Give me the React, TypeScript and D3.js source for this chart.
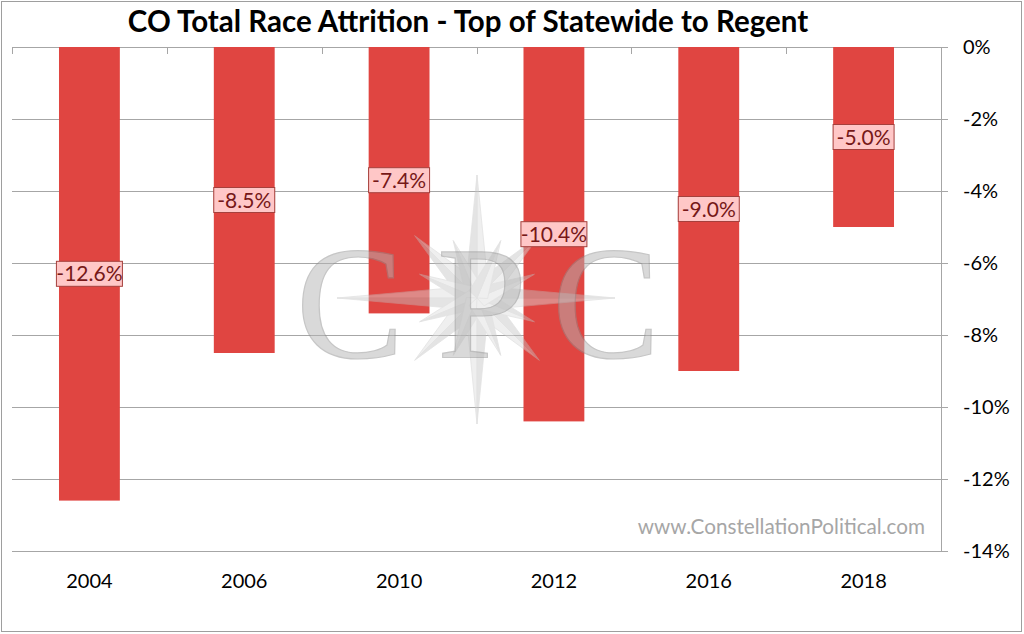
import React from "react";
import * as d3 from "d3";

const years = ["2004", "2006", "2010", "2012", "2016", "2018"];
const values = [-12.6, -8.5, -7.4, -10.4, -9.0, -5.0];
const yTicks = [0, -2, -4, -6, -8, -10, -12, -14];
const title = "CO Total Race Attrition - Top of Statewide to Regent";
const site = "www.ConstellationPolitical.com";

const W = 1024;
const H = 634;
const left = 12;
const right = 941;
const top = 47;
const bottom = 551;
const FONT = "Lato, 'Open Sans', 'Liberation Sans', sans-serif";

// compass rose spikes: angle (deg), length, half-width at base
const spikes = [
  { a: -90, r: 123, w: 12 },
  { a: 0, r: 138, w: 12 },
  { a: 90, r: 126, w: 12 },
  { a: 180, r: 140, w: 12 },
  { a: -45, r: 88, w: 13 },
  { a: 45, r: 88, w: 13 },
  { a: 135, r: 88, w: 13 },
  { a: 225, r: 88, w: 13 },
  { a: -67.5, r: 62, w: 10 },
  { a: -22.5, r: 62, w: 10 },
  { a: 22.5, r: 62, w: 10 },
  { a: 67.5, r: 62, w: 10 },
  { a: 112.5, r: 62, w: 10 },
  { a: 157.5, r: 62, w: 10 },
  { a: 202.5, r: 62, w: 10 },
  { a: 247.5, r: 62, w: 10 },
];

function spikeHalves(cx: number, cy: number, a: number, r: number, w: number) {
  const rad = (a * Math.PI) / 180;
  const ux = Math.cos(rad);
  const uy = Math.sin(rad);
  const px = -uy;
  const py = ux;
  const tip: [number, number] = [cx + r * ux, cy + r * uy];
  const c: [number, number] = [cx, cy];
  const off = w * 0.36;
  const l: [number, number] = [cx + off * ux + w * px, cy + off * uy + w * py];
  const rr: [number, number] = [cx + off * ux - w * px, cy + off * uy - w * py];
  const line = d3.line();
  return [line([c, l, tip]) + "Z", line([c, rr, tip]) + "Z"];
}

export default function App() {
  const x = d3
    .scaleBand<string>()
    .domain(years)
    .range([left, right])
    .paddingInner(0.607)
    .paddingOuter(0.3035);
  const y = d3.scaleLinear().domain([0, -14]).range([top, bottom]);
  const step = x.step();
  const boundaries = d3.range(years.length + 1).map((i) => left + i * step);
  const starCx = 477;
  const starCy = 298;
  const order = [...spikes].sort((p, q) => p.r - q.r).reverse();

  return (
    <svg
      width={W}
      height={H}
      style={{ position: "absolute", left: 0, top: 0, background: "#fff" }}
    >
      <rect x={0} y={0} width={W} height={H} fill="#fff" />
      <rect x={1.5} y={1.5} width={1020} height={630} fill="none" stroke="#9e9e9e" strokeWidth={1} />
      <text
        x={468}
        y={32}
        textAnchor="middle"
        fontFamily={FONT}
        fontWeight={700}
        fontSize={29.5}
        fill="#000"
      >
        {title}
      </text>

      {/* gridlines */}
      {yTicks.map((t) => (
        <line
          key={t}
          x1={left}
          x2={right + 7}
          y1={Math.round(y(t)) + 0.5}
          y2={Math.round(y(t)) + 0.5}
          stroke="#a6a6a6"
          strokeWidth={1}
        />
      ))}
      <line x1={right + 0.5} x2={right + 0.5} y1={top} y2={bottom + 1} stroke="#a6a6a6" />
      {boundaries.map((b, i) => (
        <line key={i} x1={Math.round(b) + 0.5} x2={Math.round(b) + 0.5} y1={top} y2={top + 7} stroke="#a6a6a6" />
      ))}

      {/* bars */}
      {values.map((v, i) => (
        <rect
          key={years[i]}
          x={x(years[i])}
          y={y(0)}
          width={x.bandwidth()}
          height={y(v) - y(0)}
          fill="#e04541"
        />
      ))}

      {/* watermark */}
      <g opacity={0.45}>
        {order.map((s, i) => {
          const [h1, h2] = spikeHalves(starCx, starCy, s.a, s.r, s.w);
          return (
            <g key={i}>
              <path d={h1} fill="#dcdcdc" stroke="#c2c2c2" strokeWidth={0.8} />
              <path d={h2} fill="#c4c4c4" stroke="#c2c2c2" strokeWidth={0.8} />
            </g>
          );
        })}
      </g>
      <g opacity={0.5}>
        {[
          { t: "C", cx: 350 },
          { t: "P", cx: 482 },
          { t: "C", cx: 606 },
        ].map((l, i) => (
          <text
            key={i}
            x={l.cx}
            y={357}
            textAnchor="middle"
            fontFamily="'Liberation Serif', 'DejaVu Serif', serif"
            fontSize={162}
            fill="#b5b5b5"
            stroke="#8f8f8f"
            strokeWidth={1.2}
          >
            {l.t}
          </text>
        ))}
      </g>

      {/* data labels */}
      {values.map((v, i) => {
        const cx = (x(years[i]) as number) + x.bandwidth() / 2;
        const cy = (y(0) + y(v)) / 2;
        const label = v.toFixed(1) + "%";
        const w = 5 * label.length + 36;
        const h = 25;
        return (
          <g key={"l" + i}>
            <rect x={cx - w / 2} y={cy - h / 2} width={w} height={h} fill="#ffc7c7" stroke="#a5403c" strokeWidth={1} />
            <text
              x={cx}
              y={cy + 7.5}
              textAnchor="middle"
              fontFamily={FONT}
              fontSize={21}
              fill="#761818"
            >
              {label}
            </text>
          </g>
        );
      })}

      {/* y tick labels */}
      {yTicks.map((t) => (
        <text key={"t" + t} x={963} y={y(t) + 7} fontFamily={FONT} fontSize={20} fill="#000">
          {t + "%"}
        </text>
      ))}

      {/* x labels */}
      {years.map((yr) => (
        <text
          key={"x" + yr}
          x={(x(yr) as number) + x.bandwidth() / 2}
          y={588}
          textAnchor="middle"
          fontFamily={FONT}
          fontSize={20}
          fill="#000"
        >
          {yr}
        </text>
      ))}

      <text x={925} y={534} textAnchor="end" fontFamily={FONT} fontSize={20.7} fill="#a6a6a6">
        {site}
      </text>
    </svg>
  );
}
